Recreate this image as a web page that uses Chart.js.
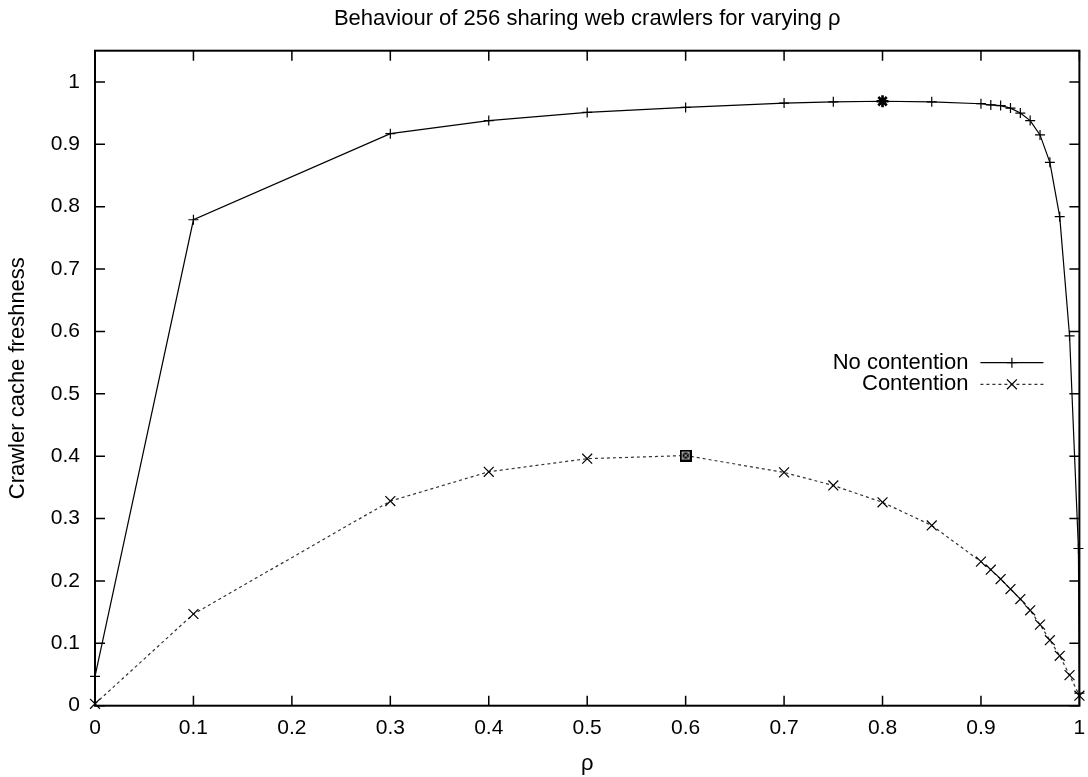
<!DOCTYPE html>
<html>
<head>
<meta charset="utf-8">
<script src="https://cdn.jsdelivr.net/npm/chart.js@4/dist/chart.umd.min.js"></script>
<style>
  html, body { margin: 0; padding: 0; background: #fff; }
  #wrap { width: 1088px; height: 777px; }
</style>
</head>
<body>
<div id="wrap"><canvas id="crawlChart" width="1088" height="777"></canvas></div>
<script>
// values
const rhoNoContention = [0, 0.1, 0.3, 0.4, 0.5, 0.6, 0.7, 0.75, 0.8, 0.85, 0.9, 0.91, 0.92, 0.93, 0.94, 0.95, 0.96, 0.97, 0.98, 0.99, 0.999, 1];
const freshNoContention = [0.047, 0.779, 0.917, 0.938, 0.951, 0.959, 0.966, 0.968, 0.969, 0.968, 0.965, 0.963, 0.962, 0.958, 0.950, 0.938, 0.915, 0.871, 0.784, 0.593, 0.252, 0.02];

const rhoContention = [0, 0.1, 0.3, 0.4, 0.5, 0.6, 0.7, 0.75, 0.8, 0.85, 0.9, 0.91, 0.92, 0.93, 0.94, 0.95, 0.96, 0.97, 0.98, 0.99, 1];
const freshContention = [0.003, 0.147, 0.328, 0.375, 0.396, 0.401, 0.374, 0.353, 0.326, 0.289, 0.231, 0.218, 0.203, 0.187, 0.171, 0.153, 0.130, 0.105, 0.080, 0.049, 0.016];

// highlighted best points (no contention, contention)
const bestRho = [0.8, 0.6];
const bestFresh = [0.969, 0.401];

const xTicks = [0, 0.1, 0.2, 0.3, 0.4, 0.5, 0.6, 0.7, 0.8, 0.9, 1];
const yTicks = [0, 0.1, 0.2, 0.3, 0.4, 0.5, 0.6, 0.7, 0.8, 0.9, 1];

const FONT = '"Liberation Sans", Arial, Helvetica, sans-serif';

function toPoints(xs, ys) {
    return xs.map((x, i) => ({ x: x, y: ys[i] }));
}

// black square with a light cross, like gnuplot's boxed point
function boxedMark() {
    const c = document.createElement('canvas');
    c.width = 12; c.height = 12;
    const g = c.getContext('2d');
    g.fillStyle = '#000';
    g.fillRect(0, 0, 12, 12);
    g.strokeStyle = '#aaa';
    g.lineWidth = 1;
    g.strokeRect(2.5, 2.5, 7, 7);
    g.beginPath();
    g.moveTo(3, 3); g.lineTo(9, 9);
    g.moveTo(9, 3); g.lineTo(3, 9);
    g.stroke();
    return c;
}

// frame round the plot with inward ticks on all four sides
const frameTicks = {
    id: 'frameTicks',
    afterDraw(chart) {
        const { ctx, chartArea: a, scales: { x, y } } = chart;
        ctx.save();
        ctx.strokeStyle = '#000';
        ctx.lineWidth = 1.5;
        ctx.beginPath();
        x.ticks.forEach(t => {
            const px = x.getPixelForValue(t.value);
            ctx.moveTo(px, a.bottom); ctx.lineTo(px, a.bottom - 10);
            ctx.moveTo(px, a.top); ctx.lineTo(px, a.top + 10);
        });
        y.ticks.forEach(t => {
            const py = y.getPixelForValue(t.value);
            ctx.moveTo(a.left, py); ctx.lineTo(a.left + 10, py);
            ctx.moveTo(a.right, py); ctx.lineTo(a.right - 10, py);
        });
        ctx.stroke();
        ctx.lineWidth = 2;
        ctx.strokeRect(a.left, a.top, a.right - a.left, a.bottom - a.top);
        ctx.restore();
    }
};

// gnuplot style key: text right aligned, sample to the right of it
const keyBox = {
    id: 'keyBox',
    afterDatasetsDraw(chart) {
        const { ctx, chartArea: a } = chart;
        const textRight = a.right - 111;
        const x0 = a.right - 99;
        const x1 = a.right - 36;
        [0, 1].forEach((i, row) => {
            const ds = chart.data.datasets[i];
            const yy = a.top + 312 + row * 21.6;
            ctx.save();
            ctx.font = '22px ' + FONT;
            ctx.textAlign = 'right';
            ctx.textBaseline = 'middle';
            ctx.fillStyle = '#000';
            ctx.fillText(ds.label, textRight, yy);
            ctx.strokeStyle = ds.borderColor;
            ctx.lineWidth = ds.borderWidth;
            ctx.setLineDash(ds.borderDash || []);
            ctx.beginPath();
            ctx.moveTo(x0, yy); ctx.lineTo(x1, yy);
            ctx.stroke();
            ctx.setLineDash([]);
            ctx.strokeStyle = '#000';
            Chart.helpers.drawPoint(ctx, {
                pointStyle: ds.pointStyle,
                radius: ds.pointRadius,
                borderWidth: ds.pointBorderWidth,
                rotation: 0
            }, (x0 + x1) / 2, yy);
            ctx.restore();
        });
    }
};

const ctx = document.getElementById('crawlChart').getContext('2d');

new Chart(ctx, {
    type: 'scatter',
    data: {
        datasets: [{
            label: 'No contention',
            data: toPoints(rhoNoContention, freshNoContention),
            showLine: true,
            borderColor: '#000',
            borderWidth: 1.2,
            pointStyle: 'cross',
            pointRadius: 5,
            pointBorderWidth: 1.2,
            pointBorderColor: '#000',
            backgroundColor: '#000',
            clip: false
        }, {
            label: 'Contention',
            data: toPoints(rhoContention, freshContention),
            showLine: true,
            borderColor: '#333',
            borderWidth: 1.2,
            borderDash: [3, 3],
            pointStyle: 'crossRot',
            pointRadius: 7,
            pointBorderWidth: 1.2,
            pointBorderColor: '#000',
            backgroundColor: '#000',
            clip: false
        }, {
            label: 'best',
            data: toPoints(bestRho, bestFresh),
            showLine: false,
            pointStyle: ['star', boxedMark()],
            pointRadius: [6, 6],
            pointBorderWidth: [2.6, 1],
            pointBorderColor: '#000',
            backgroundColor: '#000',
            order: -1,
            clip: false
        }]
    },
    options: {
        responsive: false,
        animation: false,
        devicePixelRatio: 1,
        layout: { padding: { left: 0, right: 5, top: 0, bottom: 0 } },
        plugins: {
            legend: { display: false },
            tooltip: { enabled: false },
            title: {
                display: true,
                fullSize: false,
                text: 'Behaviour of 256 sharing web crawlers for varying ρ',
                color: '#000',
                font: { family: FONT, size: 22, weight: 'normal' },
                padding: { top: 6, bottom: 18.3 }
            }
        },
        scales: {
            x: {
                type: 'linear',
                min: 0,
                max: 1,
                afterBuildTicks: scale => { scale.ticks = xTicks.map(v => ({ value: v })); },
                afterFit: scale => {
                    scale.height = 71.3;
                    scale.paddingLeft = 0;
                    scale.paddingRight = 0;
                },
                grid: { display: false, drawTicks: false },
                border: { display: false },
                ticks: {
                    color: '#000',
                    padding: 10,
                    maxRotation: 0,
                    font: { family: FONT, size: 21 },
                    callback: v => String(v)
                },
                title: {
                    display: true,
                    text: 'ρ',
                    color: '#000',
                    font: { family: FONT, size: 22 },
                    padding: { top: 2, bottom: 0 }
                }
            },
            y: {
                type: 'linear',
                min: 0,
                max: 1.05,
                afterBuildTicks: scale => { scale.ticks = yTicks.map(v => ({ value: v })); },
                afterFit: scale => { scale.width = 95; },
                grid: { display: false, drawTicks: false },
                border: { display: false },
                ticks: {
                    color: '#000',
                    padding: 15,
                    font: { family: FONT, size: 21 },
                    callback: v => String(v)
                },
                title: {
                    display: true,
                    text: 'Crawler cache freshness',
                    color: '#000',
                    font: { family: FONT, size: 22 },
                    padding: { top: 5, bottom: 0 }
                }
            }
        }
    },
    plugins: [frameTicks, keyBox]
});
</script>
</body>
</html>
